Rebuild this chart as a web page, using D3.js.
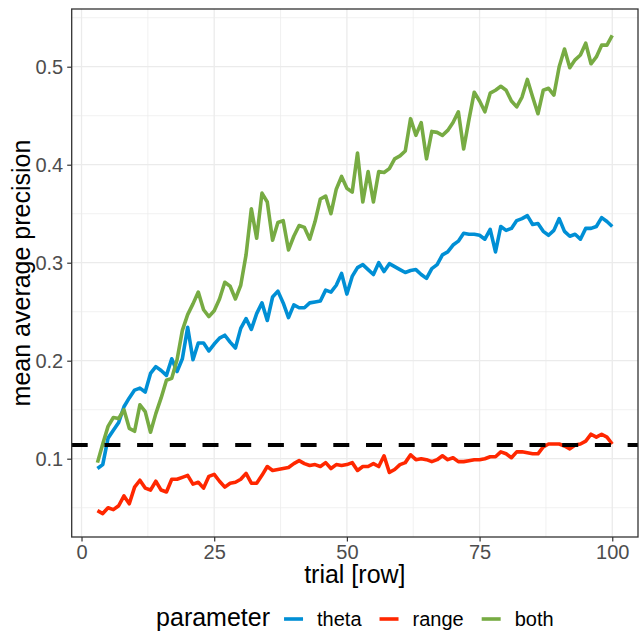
<!DOCTYPE html>
<html>
<head>
<meta charset="utf-8">
<script src="https://cdn.jsdelivr.net/npm/d3@7"></script>
<style>
  body { margin: 0; background: #fff; }
  text { font-family: "Liberation Sans", Arial, sans-serif; }
</style>
</head>
<body>
<div id="chart"></div>
<script>
const trials = d3.range(3, 101);

const theta = [
  0.090, 0.094, 0.121, 0.129, 0.137, 0.153, 0.162, 0.170, 0.172, 0.168,
  0.187, 0.194, 0.190, 0.185, 0.202, 0.189, 0.202, 0.234, 0.201, 0.218,
  0.218, 0.210, 0.217, 0.223, 0.226, 0.219, 0.213, 0.233, 0.243, 0.232,
  0.248, 0.259, 0.241, 0.265, 0.271, 0.259, 0.244, 0.257, 0.254, 0.254,
  0.259, 0.260, 0.261, 0.272, 0.270, 0.277, 0.289, 0.268, 0.286, 0.295,
  0.298, 0.293, 0.288, 0.300, 0.291, 0.299, 0.296, 0.293, 0.290, 0.292,
  0.293, 0.288, 0.284, 0.294, 0.298, 0.308, 0.311, 0.318, 0.322, 0.330,
  0.329, 0.329, 0.328, 0.324, 0.334, 0.311, 0.337, 0.333, 0.335, 0.343,
  0.345, 0.348, 0.339, 0.340, 0.332, 0.328, 0.333, 0.345, 0.332, 0.327,
  0.329, 0.324, 0.335, 0.335, 0.337, 0.346, 0.342, 0.337
];

const range = [
  0.047, 0.044, 0.050, 0.048, 0.052, 0.062, 0.054, 0.071, 0.078, 0.070,
  0.068, 0.077, 0.068, 0.066, 0.079, 0.079, 0.081, 0.083, 0.074, 0.076,
  0.070, 0.082, 0.084, 0.077, 0.071, 0.075, 0.076, 0.079, 0.085, 0.075,
  0.075, 0.083, 0.092, 0.088, 0.089, 0.090, 0.091, 0.095, 0.098, 0.095,
  0.093, 0.094, 0.092, 0.096, 0.090, 0.094, 0.093, 0.094, 0.096, 0.088,
  0.092, 0.092, 0.095, 0.092, 0.103, 0.086, 0.089, 0.094, 0.096, 0.104,
  0.099, 0.100, 0.099, 0.097, 0.099, 0.103, 0.099, 0.101, 0.097, 0.097,
  0.098, 0.099, 0.099, 0.100, 0.102, 0.102, 0.107, 0.105, 0.101, 0.107,
  0.107, 0.106, 0.105, 0.105, 0.112, 0.115, 0.115, 0.115, 0.113, 0.110,
  0.114, 0.115, 0.118, 0.125, 0.122, 0.125, 0.122, 0.115
];

const both = [
  0.096, 0.115, 0.133, 0.142, 0.141, 0.150, 0.131, 0.128, 0.155, 0.148,
  0.127, 0.146, 0.162, 0.180, 0.182, 0.201, 0.231, 0.247, 0.258, 0.270,
  0.252, 0.245, 0.251, 0.263, 0.280, 0.276, 0.263, 0.277, 0.308, 0.355,
  0.325, 0.371, 0.362, 0.323, 0.341, 0.343, 0.313, 0.327, 0.338, 0.336,
  0.324, 0.342, 0.365, 0.368, 0.350, 0.375, 0.388, 0.376, 0.372, 0.412,
  0.362, 0.393, 0.362, 0.393, 0.392, 0.396, 0.406, 0.409, 0.414, 0.447,
  0.430, 0.443, 0.406, 0.434, 0.433, 0.430, 0.435, 0.443, 0.454, 0.416,
  0.446, 0.474, 0.465, 0.454, 0.473, 0.476, 0.480, 0.476, 0.465, 0.459,
  0.469, 0.487, 0.469, 0.452, 0.476, 0.478, 0.471, 0.500, 0.518, 0.499,
  0.507, 0.512, 0.524, 0.503, 0.510, 0.522, 0.522, 0.532
];

const baseline = 0.114;
const seriesNames = ["theta", "range", "both"];
const seriesColors = ["#008FD5", "#FF2700", "#77AB43"];
const xTicks = [0, 25, 50, 75, 100];
const xMinor = [12.5, 37.5, 62.5, 87.5];
const yTicks = [0.1, 0.2, 0.3, 0.4, 0.5];
const yMinor = [0.05, 0.15, 0.25, 0.35, 0.45, 0.55];

const series = [theta, range, both].map((vals, i) => ({
  name: seriesNames[i],
  color: seriesColors[i],
  values: vals.map((v, j) => ({ t: trials[j], v: v }))
}));

const W = 644, H = 631;
const panel = { left: 71.7, right: 638, top: 9, bottom: 537 };

const svg = d3.select("#chart").append("svg")
  .attr("width", W)
  .attr("height", H);

const x = d3.scaleLinear()
  .domain([-1.85, 104.85])
  .range([panel.left, panel.right]);

const y = d3.scaleLinear()
  .domain([0.0201, 0.5589])
  .range([panel.bottom, panel.top]);

// panel background + grid
svg.append("rect")
  .attr("x", panel.left).attr("y", panel.top)
  .attr("width", panel.right - panel.left)
  .attr("height", panel.bottom - panel.top)
  .attr("fill", "#fff");

const grid = svg.append("g");
grid.selectAll(".xminor").data(xMinor).enter().append("line")
  .attr("x1", d => x(d)).attr("x2", d => x(d))
  .attr("y1", panel.top).attr("y2", panel.bottom)
  .attr("stroke", "#EBEBEB").attr("stroke-width", 0.7);
grid.selectAll(".yminor").data(yMinor).enter().append("line")
  .attr("y1", d => y(d)).attr("y2", d => y(d))
  .attr("x1", panel.left).attr("x2", panel.right)
  .attr("stroke", "#EBEBEB").attr("stroke-width", 0.7);
grid.selectAll(".xmajor").data(xTicks).enter().append("line")
  .attr("x1", d => x(d)).attr("x2", d => x(d))
  .attr("y1", panel.top).attr("y2", panel.bottom)
  .attr("stroke", "#EBEBEB").attr("stroke-width", 1.3);
grid.selectAll(".ymajor").data(yTicks).enter().append("line")
  .attr("y1", d => y(d)).attr("y2", d => y(d))
  .attr("x1", panel.left).attr("x2", panel.right)
  .attr("stroke", "#EBEBEB").attr("stroke-width", 1.3);

// lines
const line = d3.line()
  .x(d => x(d.t))
  .y(d => y(d.v));

svg.append("g").selectAll("path")
  .data(series)
  .enter()
  .append("path")
  .attr("d", d => line(d.values))
  .attr("fill", "none")
  .attr("stroke", d => d.color)
  .attr("stroke-width", 3.6)
  .attr("stroke-linejoin", "round");

// dashed reference line
svg.append("line")
  .attr("x1", panel.left).attr("x2", panel.right)
  .attr("y1", y(baseline)).attr("y2", y(baseline))
  .attr("stroke", "#000")
  .attr("stroke-width", 4)
  .attr("stroke-dasharray", "16,16.7");

// panel border
svg.append("rect")
  .attr("x", panel.left).attr("y", panel.top)
  .attr("width", panel.right - panel.left)
  .attr("height", panel.bottom - panel.top)
  .attr("fill", "none")
  .attr("stroke", "#333")
  .attr("stroke-width", 1.3);

// axes
const xAxis = svg.append("g")
  .attr("transform", `translate(0,${panel.bottom})`)
  .call(d3.axisBottom(x).tickValues(xTicks).tickSize(4.5).tickPadding(3).tickFormat(d3.format("d")));
const yAxis = svg.append("g")
  .attr("transform", `translate(${panel.left},0)`)
  .call(d3.axisLeft(y).tickValues(yTicks).tickSize(4.5).tickPadding(4).tickFormat(d3.format(".1f")));

[xAxis, yAxis].forEach(a => {
  a.select(".domain").remove();
  a.selectAll(".tick line").attr("stroke", "#333").attr("stroke-width", 1.2);
  a.selectAll(".tick text")
    .attr("fill", "#4D4D4D")
    .style("font-size", "20px")
    .style("font-family", "'Liberation Sans', Arial, sans-serif");
});

// axis titles
svg.append("text")
  .attr("x", (panel.left + panel.right) / 2)
  .attr("y", 583)
  .attr("text-anchor", "middle")
  .style("font-size", "25px")
  .attr("fill", "#000")
  .text("trial [row]");

svg.append("text")
  .attr("transform", `translate(30,${(panel.top + panel.bottom) / 2}) rotate(-90)`)
  .attr("text-anchor", "middle")
  .style("font-size", "25px")
  .attr("fill", "#000")
  .text("mean average precision");

// legend
const legend = svg.append("g");
const legY = 626;
let cx = 0;
const title = legend.append("text")
  .attr("x", cx).attr("y", legY)
  .style("font-size", "25px")
  .text("parameter");
cx += title.node().getComputedTextLength() + 14;
series.forEach((s, i) => {
  legend.append("line")
    .attr("x1", cx).attr("x2", cx + 19)
    .attr("y1", legY - 7).attr("y2", legY - 7)
    .attr("stroke", s.color)
    .attr("stroke-width", 3.6);
  cx += 19 + 14;
  const lbl = legend.append("text")
    .attr("x", cx).attr("y", legY)
    .style("font-size", "20px")
    .text(s.name);
  cx += lbl.node().getComputedTextLength() + (i < series.length - 1 ? 18 : 0);
});
legend.attr("transform", `translate(${(panel.left + panel.right) / 2 - cx / 2},0)`);
</script>
</body>
</html>
